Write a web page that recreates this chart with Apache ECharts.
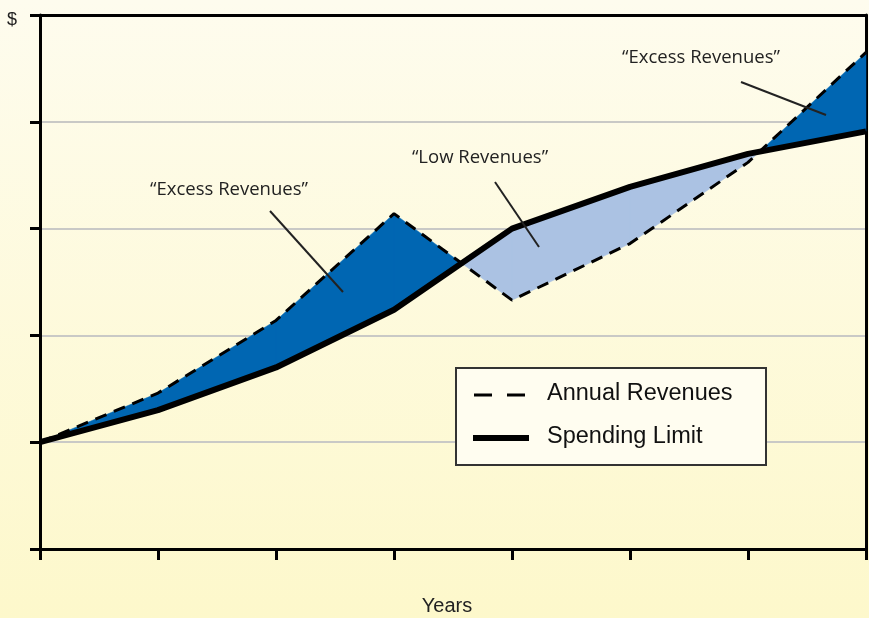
<!DOCTYPE html>
<html><head><meta charset="utf-8">
<script src="https://cdn.jsdelivr.net/npm/echarts@6/dist/echarts.min.js"></script>
<style>html,body{margin:0;padding:0;}#c{width:869px;height:618px;}</style>
</head><body><div id="c"></div>
<script>
const years = [0, 1, 2, 3, 4, 5, 6, 7];
const annualRevenues = [1.0, 1.46, 2.14, 3.14, 2.33, 2.86, 3.62, 4.65];
const spendingLimit = [1.0, 1.30, 1.70, 2.24, 3.0, 3.39, 3.70, 3.91];
const yTicks = [0, 1, 2, 3, 4, 5];

const DARK = '#0066b2', LIGHT = '#abc2e3';

// build fill polygons between the two lines (split at crossings)
const polys = [];
for (let i = 0; i < years.length - 1; i++) {
  const x0 = years[i], x1 = years[i + 1];
  const r0 = annualRevenues[i], r1 = annualRevenues[i + 1];
  const s0 = spendingLimit[i], s1 = spendingLimit[i + 1];
  const d0 = r0 - s0, d1 = r1 - s1;
  if (d0 * d1 < 0) {
    const t = d0 / (d0 - d1);
    const xc = x0 + t * (x1 - x0), yc = s0 + t * (s1 - s0);
    polys.push({pts: [[x0, s0], [xc, yc], [x0, r0]], pos: d0 > 0});
    polys.push({pts: [[xc, yc], [x1, s1], [x1, r1]], pos: d1 > 0});
  } else {
    polys.push({pts: [[x0, s0], [x1, s1], [x1, r1], [x0, r0]], pos: (d0 + d1) >= 0});
  }
}

const chart = echarts.init(document.getElementById('c'));
const font = '"Open Sans", "Noto Sans", sans-serif';
const hfont = '"Liberation Sans", Arial, sans-serif';

chart.setOption({
  animation: false,
  backgroundColor: new echarts.graphic.LinearGradient(0, 0, 0, 1, [
    {offset: 0, color: '#fefcee'}, {offset: 1, color: '#fdf8cb'}
  ]),
  grid: {left: 40, right: 3, top: 15, bottom: 69},
  xAxis: [{
    type: 'value', min: 0, max: 7, interval: 1, position: 'bottom',
    axisLine: {onZero: false, lineStyle: {color: '#000', width: 3}},
    axisTick: {show: true, inside: false, length: 11, lineStyle: {color: '#000', width: 3}},
    axisLabel: {show: false}, splitLine: {show: false}
  }, {
    type: 'value', min: 0, max: 7, interval: 1, position: 'top',
    axisLine: {show: true, onZero: false, lineStyle: {color: '#000', width: 3}},
    axisTick: {show: false}, axisLabel: {show: false}, splitLine: {show: false}
  }],
  yAxis: [{
    type: 'value', min: 0, max: 5, interval: 1, position: 'left',
    axisLine: {show: true, onZero: false, lineStyle: {color: '#000', width: 3}},
    axisTick: {show: true, length: 10, lineStyle: {color: '#000', width: 3}},
    axisLabel: {show: false},
    splitLine: {show: true, lineStyle: {color: '#c9c9c6', width: 2}}
  }, {
    type: 'value', min: 0, max: 5, interval: 1, position: 'right',
    axisLine: {show: true, onZero: false, lineStyle: {color: '#000', width: 3}},
    axisTick: {show: false}, axisLabel: {show: false}, splitLine: {show: false}
  }],
  series: [{
    type: 'custom', z: 1,
    data: polys.map((p, i) => i),
    renderItem: function (params, api) {
      const p = polys[params.dataIndex];
      return {
        type: 'polygon',
        shape: {points: p.pts.map(q => api.coord(q))},
        style: {fill: p.pos ? DARK : LIGHT, stroke: p.pos ? DARK : LIGHT, lineWidth: 0.5}
      };
    },
    silent: true
  }, {
    type: 'line', z: 3, name: 'Annual Revenues',
    data: years.map((x, i) => [x, annualRevenues[i]]),
    showSymbol: false, symbol: 'none',
    lineStyle: {color: '#000', width: 3, type: [12, 8]}
  }, {
    type: 'line', z: 4, name: 'Spending Limit',
    data: years.map((x, i) => [x, spendingLimit[i]]),
    showSymbol: false, symbol: 'none',
    lineStyle: {color: '#000', width: 6, join: 'round'}
  }],
  graphic: [
    {type: 'text', left: 7, top: 11, style: {text: '$', font: '18px ' + hfont, fill: '#222'}},
    {type: 'text', x: 447, y: 606, style: {text: 'Years', font: '20px ' + hfont, fill: '#222', textAlign: 'center', textVerticalAlign: 'middle'}},
    // annotations
    {type: 'text', x: 229, y: 190, z: 10, style: {text: '\u201CExcess Revenues\u201D', font: '18.5px ' + font, fill: '#222', textAlign: 'center', textVerticalAlign: 'middle'}},
    {type: 'line', z: 10, shape: {x1: 270, y1: 211, x2: 343, y2: 292}, style: {stroke: '#222', lineWidth: 2}},
    {type: 'text', x: 480, y: 158, z: 10, style: {text: '\u201CLow Revenues\u201D', font: '18.5px ' + font, fill: '#222', textAlign: 'center', textVerticalAlign: 'middle'}},
    {type: 'line', z: 10, shape: {x1: 495, y1: 182, x2: 539, y2: 247}, style: {stroke: '#222', lineWidth: 2}},
    {type: 'text', x: 701, y: 58, z: 10, style: {text: '\u201CExcess Revenues\u201D', font: '18.5px ' + font, fill: '#222', textAlign: 'center', textVerticalAlign: 'middle'}},
    {type: 'line', z: 10, shape: {x1: 741, y1: 82, x2: 826, y2: 115}, style: {stroke: '#222', lineWidth: 2}},
    // legend box
    {type: 'rect', z: 20, shape: {x: 456, y: 368, width: 310, height: 97}, style: {fill: '#fffdf0', stroke: '#333', lineWidth: 2}},
    {type: 'line', z: 21, shape: {x1: 474, y1: 395, x2: 527, y2: 395}, style: {stroke: '#000', lineWidth: 3, lineDash: [18, 15]}},
    {type: 'text', z: 21, x: 547, y: 394, style: {text: 'Annual Revenues', font: '23.5px ' + hfont, fill: '#111', textVerticalAlign: 'middle'}},
    {type: 'line', z: 21, shape: {x1: 473, y1: 438, x2: 529, y2: 438}, style: {stroke: '#000', lineWidth: 6}},
    {type: 'text', z: 21, x: 547, y: 437, style: {text: 'Spending Limit', font: '23.5px ' + hfont, fill: '#111', textVerticalAlign: 'middle'}}
  ]
});
</script></body></html>
